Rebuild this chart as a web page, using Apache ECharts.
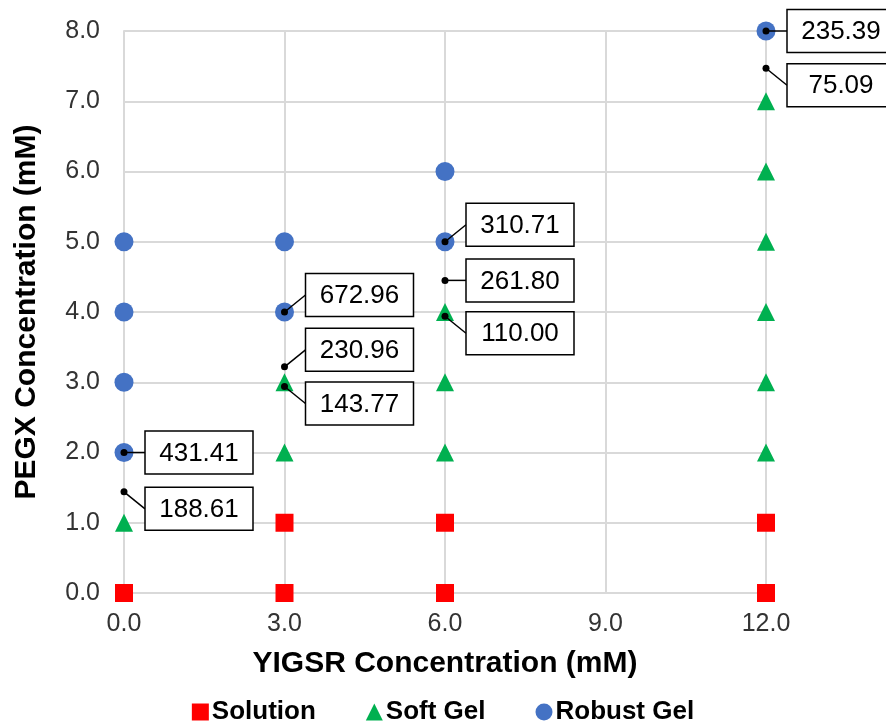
<!DOCTYPE html>
<html>
<head>
<meta charset="utf-8">
<script src="https://cdn.jsdelivr.net/npm/echarts@6/dist/echarts.min.js"></script>
<style>
html,body{margin:0;padding:0;background:#fff;}
#chart{width:886px;height:721px;}
</style>
</head>
<body>
<div id="chart"></div>
<script>
// ---- data ----
const solutionX = [0, 3, 6, 12, 3, 6, 12];
const solutionY = [0, 0, 0, 0, 1, 1, 1];
const softX = [0, 3, 3, 6, 6, 6, 12, 12, 12, 12, 12, 12];
const softY = [1, 2, 3, 2, 3, 4, 2, 3, 4, 5, 6, 7];
const robustX = [0, 0, 0, 0, 3, 3, 6, 6, 12];
const robustY = [2, 3, 4, 5, 4, 5, 5, 6, 8];
// annotation anchors (data coords) and texts
const annX = [0, 0, 3, 3, 3, 6, 6, 6, 12, 12];
const annY = [2, 1.44, 4, 3.22, 2.94, 5, 4.45, 3.94, 8, 7.47];
const annText = ['431.41', '188.61', '672.96', '230.96', '143.77', '310.71', '261.80', '110.00', '235.39', '75.09'];
const xTicks = [0, 3, 6, 9, 12];
const yTicks = [0, 1, 2, 3, 4, 5, 6, 7, 8];

// ---- layout (not data) ----
const annShift = [0, 1, -1, -1, 1, -1, 0, 1, 0, 1]; // box vertical shift direction

function zip(a, b) { return a.map((v, i) => [v, b[i]]); }

const FONT = '"Liberation Sans", Arial, sans-serif';
const chart = echarts.init(document.getElementById('chart'), null, {renderer: 'canvas'});

const option = {
  animation: false,
  backgroundColor: '#fff',
  grid: {left: 124, right: 120, top: 31, bottom: 128, containLabel: false},
  xAxis: {
    type: 'value', min: xTicks[0], max: xTicks[xTicks.length - 1], interval: 3,
    name: 'YIGSR Concentration (mM)', nameLocation: 'middle', nameGap: 56,
    nameTextStyle: {fontFamily: FONT, fontSize: 30, fontWeight: 'bold', color: '#000'},
    axisLine: {show: true, lineStyle: {color: '#d9d9d9', width: 2}},
    axisTick: {show: false},
    axisLabel: {fontFamily: FONT, fontSize: 25, color: '#333', margin: 19,
      formatter: v => v.toFixed(1)},
    splitLine: {show: true, lineStyle: {color: '#d9d9d9', width: 2}}
  },
  yAxis: {
    type: 'value', min: yTicks[0], max: yTicks[yTicks.length - 1], interval: 1,
    name: 'PEGX Concentration (mM)', nameLocation: 'middle', nameGap: 82,
    nameTextStyle: {fontFamily: FONT, fontSize: 30, fontWeight: 'bold', color: '#000'},
    axisLine: {show: true, lineStyle: {color: '#d9d9d9', width: 2}},
    axisTick: {show: false},
    axisLabel: {fontFamily: FONT, fontSize: 25, color: '#333', margin: 24,
      formatter: v => v.toFixed(1)},
    splitLine: {show: true, lineStyle: {color: '#d9d9d9', width: 2}}
  },
  legend: {
    bottom: -9, left: 'center',
    itemWidth: 17, itemHeight: 17, itemGap: 50,
    textStyle: {fontFamily: FONT, fontSize: 26, fontWeight: 'bold', color: '#000', padding: [0, 0, 0, -2]},
    data: [
      {name: 'Solution', icon: 'rect'},
      {name: 'Soft Gel', icon: 'triangle'},
      {name: 'Robust Gel', icon: 'circle'}
    ]
  },
  series: [
    {name: 'Solution', type: 'scatter', symbol: 'rect', symbolSize: 18,
     itemStyle: {color: '#ff0000', opacity: 1}, data: zip(solutionX, solutionY), z: 2},
    {name: 'Soft Gel', type: 'scatter', symbol: 'triangle', symbolSize: 18,
     itemStyle: {color: '#00b050', opacity: 1}, data: zip(softX, softY), z: 2},
    {name: 'Robust Gel', type: 'scatter', symbol: 'circle', symbolSize: 19,
     itemStyle: {color: '#4472c4', opacity: 1}, data: zip(robustX, robustY), z: 2},
    {
      name: 'labels', type: 'custom', z: 5, clip: false, silent: true,
      data: zip(annX, annY),
      renderItem: function (params, api) {
        const i = params.dataIndex;
        const p = api.coord([api.value(0), api.value(1)]);
        const bx = p[0] + 21;
        const by = p[1] + annShift[i] * 17;
        const w = 108, h = 43;
        return {
          type: 'group',
          children: [
            {type: 'line', shape: {x1: p[0], y1: p[1], x2: bx, y2: by},
             style: {stroke: '#000', lineWidth: 1.5}},
            {type: 'rect', shape: {x: bx, y: by - h / 2, width: w, height: h},
             style: {fill: '#fff', stroke: '#000', lineWidth: 1.5}},
            {type: 'text', style: {x: bx + w / 2, y: by + 1, text: annText[i],
              align: 'center', verticalAlign: 'middle',
              font: '26px ' + FONT, fill: '#000'}},
            {type: 'circle', shape: {cx: p[0], cy: p[1], r: 3.5},
             style: {fill: '#000'}}
          ]
        };
      }
    }
  ]
};
chart.setOption(option);
</script>
</body>
</html>
